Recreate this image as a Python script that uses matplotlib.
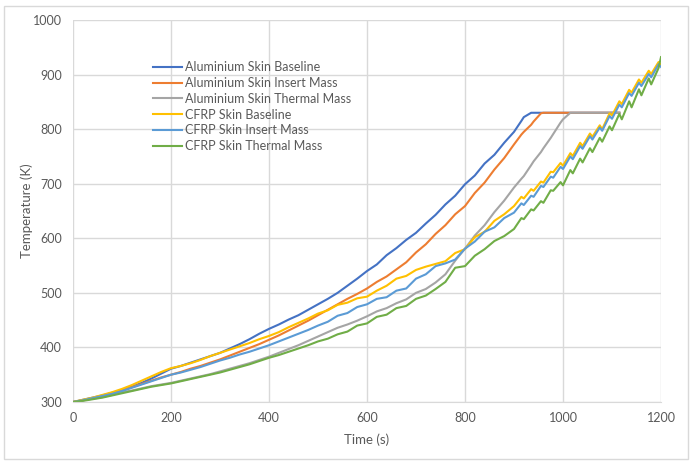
import numpy as np
import matplotlib
matplotlib.use("Agg")
import matplotlib.pyplot as plt
from matplotlib.patches import Rectangle

# time axis: 20 s steps up to 880 s, then peak / trough points of the oscillation
time_s = list(range(0, 900, 20)) + [900, 915, 920, 935, 940, 955, 960, 975, 980, 995,
                                    1000, 1015, 1020, 1035, 1040, 1055, 1060, 1075, 1080, 1095,
                                    1100, 1115, 1120, 1135, 1140, 1155, 1160, 1175, 1180, 1195, 1200]

nan = np.nan

al_baseline = [300, 304, 308, 312, 317, 322, 328, 335, 343, 352,
               361, 366, 372, 378, 384, 390, 398, 406, 415, 425,
               434, 442, 451, 459, 469, 479, 489, 500, 513, 526,
               540, 552, 569, 582, 597, 610, 627, 643, 662, 678,
               699, 715, 737, 753, 775,
               795, 815, 822, 830, 830, 830, 830, 830, 830, 830,
               830, 830, 830, 830, 830, 830, 830, 830, 830, 830,
               830, 830, nan, nan, nan, nan, nan, nan, nan, nan, nan]

al_insert = [300, 303, 307, 311, 316, 321, 327, 333, 339, 345,
             350, 355, 361, 366, 372, 378, 385, 392, 399, 406,
             414, 422, 431, 440, 449, 459, 469, 479, 489, 498,
             508, 520, 530, 543, 556, 574, 589, 608, 624, 644,
             659, 683, 702, 726, 747,
             772, 790, 795, 808, 814, 829, 830, 830, 830, 830,
             830, 830, 830, 830, 830, 830, 830, 830, 830, 830,
             830, 830, nan, nan, nan, nan, nan, nan, nan, nan, nan]

al_thermal = [300, 303, 306, 309, 313, 318, 321, 325, 329, 332,
              335, 339, 343, 347, 351, 356, 361, 366, 371, 377,
              383, 390, 397, 404, 412, 420, 428, 436, 442, 449,
              457, 466, 472, 481, 488, 500, 507, 519, 534, 559,
              581, 605, 624, 648, 669,
              693, 709, 714, 734, 741, 758, 765, 784, 791, 812,
              818, 830, 830, 830, 830, 830, 830, 830, 830, 830,
              830, 830, nan, nan, nan, nan, nan, nan, nan, nan, nan]

cfrp_baseline = [300, 304, 308, 313, 318, 324, 331, 339, 347, 355,
                 362, 366, 371, 377, 384, 390, 396, 402, 408, 415,
                 421, 428, 437, 445, 453, 462, 468, 478, 482, 490,
                 493, 504, 513, 526, 531, 542, 548, 553, 558, 573,
                 580, 602, 612, 632, 644,
                 659, 676, 673, 690, 687, 704, 702, 722, 721, 738,
                 733, 756, 751, 775, 769, 792, 786, 807, 800, 829,
                 825, 851, 846, 872, 867, 891, 885, 907, 901, 923, 918]

cfrp_insert = [300, 303, 307, 311, 315, 320, 326, 332, 338, 344,
               350, 354, 359, 364, 370, 376, 381, 387, 392, 398,
               404, 411, 418, 425, 432, 440, 447, 458, 463, 474,
               479, 489, 492, 504, 508, 526, 534, 549, 554, 561,
               581, 594, 612, 620, 637,
               647, 664, 661, 678, 676, 696, 694, 713, 711, 731,
               727, 750, 745, 769, 764, 787, 781, 803, 797, 824,
               819, 845, 840, 866, 861, 885, 879, 901, 895, 919, 914]

cfrp_thermal = [300, 302, 305, 308, 312, 316, 320, 324, 328, 331,
                334, 338, 342, 346, 350, 354, 359, 364, 369, 375,
                381, 386, 392, 398, 404, 411, 416, 424, 429, 440,
                444, 456, 460, 472, 476, 489, 495, 507, 520, 546,
                549, 568, 580, 595, 604,
                617, 637, 635, 653, 651, 668, 665, 688, 687, 703,
                697, 725, 719, 746, 739, 765, 758, 784, 777, 805,
                798, 828, 818, 851, 840, 873, 862, 893, 882, 912, 932]

series_labels = ["Aluminium Skin Baseline", "Aluminium Skin Insert Mass",
                 "Aluminium Skin Thermal Mass", "CFRP Skin Baseline",
                 "CFRP Skin Insert Mass", "CFRP Skin Thermal Mass"]
series_colors = ["#4472C4", "#ED7D31", "#A5A5A5", "#FFC000", "#5B9BD5", "#70AD47"]

x_ticks = [0, 200, 400, 600, 800, 1000, 1200]
y_ticks = [300, 400, 500, 600, 700, 800, 900, 1000]

plt.rcParams["font.family"] = ["Lato", "DejaVu Sans"]
text_grey = "#595959"
grid_grey = "#d9d9d9"

fig = plt.figure(figsize=(6.92, 4.62), dpi=100)
fig.patches.append(Rectangle((0.006, 0.006), 0.988, 0.982, transform=fig.transFigure,
                             fill=False, edgecolor=grid_grey, linewidth=1))
ax = fig.add_axes([0.1055, 0.1299, 0.8497, 0.8268])

all_series = [al_baseline, al_insert, al_thermal, cfrp_baseline, cfrp_insert, cfrp_thermal]
for values, label, color in zip(all_series, series_labels, series_colors):
    ax.plot(time_s, values, color=color, linewidth=1.5, label=label)

ax.set_xlim(0, 1200)
ax.set_ylim(300, 1000)
ax.set_xticks(x_ticks)
ax.set_yticks(y_ticks)
ax.tick_params(length=0, labelsize=9, labelcolor=text_grey)
ax.tick_params(axis="x", pad=7)
ax.tick_params(axis="y", pad=8)
ax.grid(True, color=grid_grey, linewidth=1)
ax.set_axisbelow(True)
for side in ["top", "right", "left"]:
    ax.spines[side].set_visible(False)
ax.spines["bottom"].set_color(grid_grey)

ax.set_xlabel("Time (s)", fontsize=9.5, color=text_grey, labelpad=7)
ax.set_ylabel("Temperature (K)", fontsize=9.5, color=text_grey, labelpad=0)

ax.legend(loc="upper left", bbox_to_anchor=(0.128, 0.905), frameon=False, fontsize=9,
          labelcolor=text_grey, handlelength=2.3, handletextpad=0.25,
          labelspacing=0.3, borderaxespad=0)

fig.savefig("out.png", dpi=100)
